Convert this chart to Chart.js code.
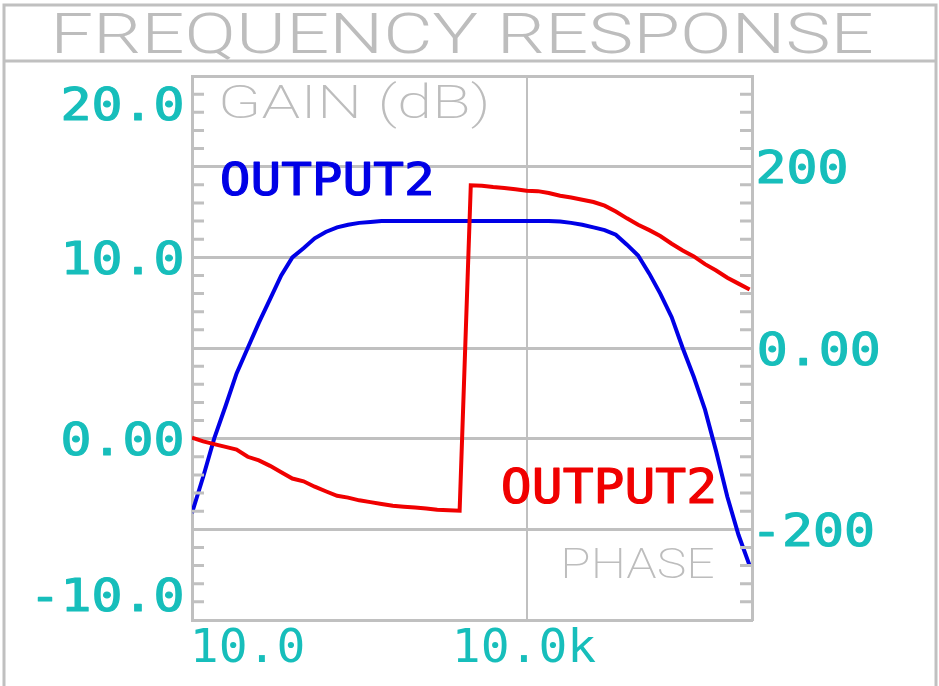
<!DOCTYPE html>
<html>
<head>
<meta charset="utf-8">
<script src="https://cdn.jsdelivr.net/npm/chart.js@4/dist/chart.umd.min.js"></script>
<style>
  html, body { margin: 0; padding: 0; background: #ffffff; }
  canvas { display: block; }
</style>
</head>
<body>
<canvas id="resp" width="939" height="686"></canvas>
<script>
// frequency points (Hz), 10 per decade
const freqHz = [10, 12.6, 15.8, 20, 25.1, 31.6, 39.8, 50.1, 63.1, 79.4,
  100, 126, 158, 200, 251, 316, 398, 501, 631, 794,
  1000, 1260, 1580, 2000, 2510, 3160, 3980, 5010, 6310, 7940,
  10000, 12600, 15800, 20000, 25100, 31600, 39800, 50100, 63100, 79400,
  100000, 126000, 158000, 200000, 251000, 316000, 398000, 501000, 631000, 794000,
  1000000];

// OUTPUT2 gain (dB)
const gainDb = [-4.1, -2.1, 0.0, 1.8, 3.6, 5.0, 6.4, 7.7, 9.0, 10.0,
  10.5, 11.05, 11.4, 11.65, 11.8, 11.9, 11.95, 12.0, 12.0, 12.0,
  12.0, 12.0, 12.0, 12.0, 12.0, 12.0, 12.0, 12.0, 12.0, 12.0,
  12.0, 12.0, 12.0, 11.97, 11.9, 11.8, 11.65, 11.5, 11.25, 10.7,
  10.1, 9.1, 8.0, 6.7, 5.0, 3.4, 1.6, -0.7, -3.2, -5.3,
  -7.0];

// OUTPUT2 phase (deg)
const phaseDeg = [-99, -103, -106, -109, -112, -120, -124, -130, -137, -144,
  -147, -153, -158, -163, -165, -168, -170, -172, -174, -175,
  -176, -177, -178.5, -179, -179.5, 179.5, 179, 177.5, 176.5, 175,
  173.5, 173, 171, 168, 166, 163.5, 161, 157, 150.5, 143,
  136, 130, 123.5, 115, 107.5, 101, 92.5, 85.5, 77.5, 71,
  64.5];

// axis tick labels
const gainTicks = [20, 10, 0, -10];
const gainLabels = ["20.0", "10.0", "0.00", "-10.0"];
const phaseTicks = [200, 0, -200];
const phaseLabels = ["200", "0.00", "-200"];
const freqTicks = [10, 10000];
const freqLabels = ["10.0", "10.0k"];

const GRAY = "#c0c0c0";
const TEAL = "#17bebb";
const BLUE = "rgb(0,0,230)";
const RED = "rgb(240,0,0)";

const MONO = '"DejaVu Sans Mono", monospace';
const THIN = 'Roboto, "Noto Sans", sans-serif';

const tealY = { family: MONO, weight: "normal", cap: 33, sx: 1.14, color: TEAL, stroke: 1.2 };
const tealX = { family: MONO, weight: "normal", cap: 34, sx: 1.03, color: TEAL };

function fontFor(ctx, st) {
  ctx.font = st.weight + " 100px " + st.family;
  const r = ctx.measureText("H").actualBoundingBoxAscent / 100;
  ctx.font = st.weight + " " + (st.cap / r) + "px " + st.family;
}

function measure(ctx, text, st, width) {
  fontFor(ctx, st);
  const m = ctx.measureText(text);
  const ink = m.actualBoundingBoxLeft + m.actualBoundingBoxRight;
  const sx = width ? width / ink : st.sx;
  return { m: m, sx: sx, w: ink * sx };
}

// draws text with its ink box placed at x (by align) and vertically centred on cy
function drawText(ctx, text, x, cy, st, align, width) {
  const t = measure(ctx, text, st, width);
  const left = align === "left" ? x : align === "right" ? x - t.w : x - t.w / 2;
  ctx.save();
  ctx.translate(left, cy + st.cap / 2);
  ctx.scale(t.sx, 1);
  ctx.fillStyle = st.color;
  ctx.textAlign = "left";
  ctx.textBaseline = "alphabetic";
  ctx.fillText(text, t.m.actualBoundingBoxLeft, 0);
  if (st.stroke) {
    ctx.strokeStyle = st.color;
    ctx.lineWidth = st.stroke;
    ctx.lineJoin = "round";
    ctx.strokeText(text, t.m.actualBoundingBoxLeft, 0);
  }
  ctx.restore();
}

const clamp = (v, lo, hi) => Math.max(lo, Math.min(hi, v));

const decorPlugin = {
  id: "decor",
  afterDraw(chart) {
    const ctx = chart.ctx;
    const a = chart.chartArea;
    const sx = chart.scales.x, sy = chart.scales.y, sy1 = chart.scales.y1;

    // outer frame + title box
    ctx.save();
    ctx.strokeStyle = GRAY;
    ctx.lineWidth = 3;
    ctx.strokeRect(4, 5, 932, 690);
    ctx.beginPath();
    ctx.moveTo(4, 61);
    ctx.lineTo(936, 61);
    ctx.stroke();

    // minor ticks, inside both vertical axes
    ctx.lineWidth = 3;
    for (let v = -10; v <= 20; v++) {
      if (v % 5 === 0) continue;
      const y = sy.getPixelForValue(v);
      ctx.beginPath();
      ctx.moveTo(a.left, y); ctx.lineTo(a.left + 12, y);
      ctx.moveTo(a.right - 12, y); ctx.lineTo(a.right, y);
      ctx.stroke();
    }
    ctx.restore();

    // title
    drawText(ctx, "FREQUENCY RESPONSE", 57, 33,
      { family: THIN, weight: "300", cap: 40, color: "#bdbdbd" }, "left", 814);

    // left axis labels, kept inside the axis extent
    gainTicks.forEach((v, i) => {
      const y = clamp(sy.getPixelForValue(v), a.top + 27, a.bottom - 26);
      drawText(ctx, gainLabels[i], a.left - 10, y, tealY, "right");
    });
    // right axis labels
    phaseTicks.forEach((v, i) => {
      const y = clamp(sy1.getPixelForValue(v), a.top + 27, a.bottom - 26);
      drawText(ctx, phaseLabels[i], a.right + 7, y, tealY, "left");
    });
    // x axis labels
    freqTicks.forEach((v, i) => {
      const half = measure(ctx, freqLabels[i], tealX).w / 2;
      const x = clamp(sx.getPixelForValue(v), a.left + 3 + half, a.right - 3 - half);
      drawText(ctx, freqLabels[i], x, a.bottom + 25, tealX, "center");
    });

    // in-plot captions
    drawText(ctx, "GAIN (dB)", a.left + 30, 101.5,
      { family: THIN, weight: "200", cap: 33, color: "#bdbdbd" }, "left", 264);
    drawText(ctx, "OUTPUT2", a.left + 30, 178.5,
      { family: MONO, weight: "normal", cap: 33, color: BLUE, stroke: 1.2 }, "left", 209);
    drawText(ctx, "OUTPUT2", 503, 485.5,
      { family: MONO, weight: "normal", cap: 35, color: RED, stroke: 1.2 }, "left", 210);
    drawText(ctx, "PHASE", 565, 562.5,
      { family: THIN, weight: "200", cap: 31, color: "#bdbdbd" }, "left", 148);
  }
};

new Chart(document.getElementById("resp").getContext("2d"), {
  type: "line",
  data: {
    datasets: [
      {
        label: "OUTPUT2 phase",
        data: freqHz.map((f, i) => ({ x: f, y: phaseDeg[i] })),
        yAxisID: "y1",
        borderColor: RED,
        borderWidth: 4,
        pointRadius: 0,
        tension: 0,
        order: 0,
      },
      {
        label: "OUTPUT2 gain",
        data: freqHz.map((f, i) => ({ x: f, y: gainDb[i] })),
        yAxisID: "y",
        borderColor: BLUE,
        borderWidth: 4,
        pointRadius: 0,
        tension: 0,
        order: 1,
      },
    ],
  },
  options: {
    responsive: false,
    animation: false,
    layout: { padding: { left: 192, right: 187, top: 76, bottom: 66 } },
    plugins: {
      legend: { display: false },
      title: { display: false },
      tooltip: { enabled: false },
    },
    scales: {
      x: {
        type: "logarithmic",
        min: 10,
        max: 1.05e6,
        afterBuildTicks: (s) => { s.ticks = [{ value: 10 }, { value: 10000 }, { value: 1.05e6 }]; },
        ticks: { display: false },
        grid: {
          drawTicks: false,
          color: (c) => (c.tick && c.tick.value === 10000 ? GRAY : "rgba(0,0,0,0)"),
          lineWidth: 2,
        },
        border: { display: true, color: GRAY, width: 3 },
      },
      y: {
        position: "left",
        min: -10,
        max: 20,
        ticks: { display: false, stepSize: 5 },
        grid: { drawTicks: false, color: GRAY, lineWidth: 3 },
        border: { display: true, color: GRAY, width: 3 },
      },
      y1: {
        position: "right",
        min: -300,
        max: 300,
        ticks: { display: false, stepSize: 100 },
        grid: { display: false, drawTicks: false },
        border: { display: true, color: GRAY, width: 3 },
      },
    },
  },
  plugins: [decorPlugin],
});
</script>
</body>
</html>
